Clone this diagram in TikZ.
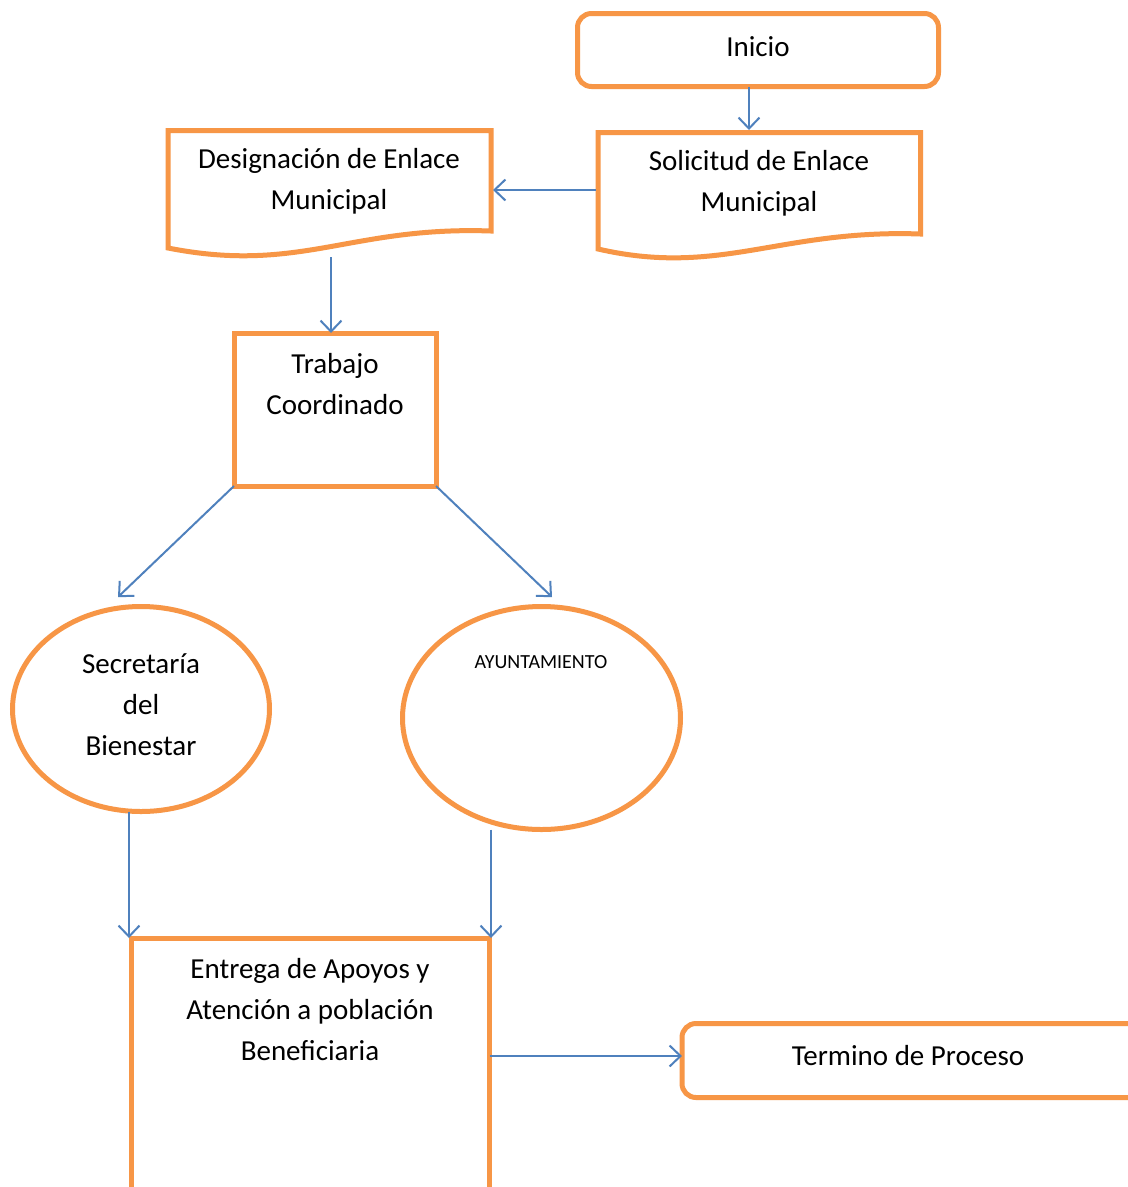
\documentclass[tikz,border=0pt]{standalone}
\usepackage{fontspec}
\setmainfont{Carlito}
\usetikzlibrary{arrows.meta,shapes.geometric}
\definecolor{boxorange}{HTML}{F79646}
\definecolor{linkblue}{HTML}{4F81BD}
\begin{document}
\begin{tikzpicture}[x=1pt,y=-1pt,
  outl/.style={draw=boxorange,line width=5pt},
  shapebox/.style={inner sep=0pt,outer sep=0pt},
  lbl/.style={font=\fontsize{29}{41}\selectfont,align=center,inner sep=0pt},
  smalllbl/.style={font=\fontsize{20}{24}\selectfont,align=center,inner sep=0pt},
  conn/.style={draw=linkblue,line width=2pt,-{Straight Barb[length=11pt,width=21pt,line width=2pt]}}]
\useasboundingbox (0,0) rectangle (1128,1187);
\clip (0,0) rectangle (1128,1187);
\fill[white] (0,0) rectangle (1128,1187);

% Inicio
\node[shapebox,outl,rounded corners=14pt,minimum width=361pt,minimum height=73pt] (inicio) at (758,50) {};
\node[lbl] (iniciotxt) at (758,47) {Inicio};

% Solicitud (document shape)
\node[shapebox,minimum width=326pt,minimum height=120pt] (solic) at (759,190) {};
\draw[outl,line join=miter] (598,132.5) -- (920.5,132.5) -- (920.5,234)
  .. controls (780,229) and (720,277) .. (598,249) -- cycle;
\node[lbl] (solictxt) at (759,183) {Solicitud de Enlace\\Municipal};

% Designacion (document shape)
\node[shapebox,minimum width=327pt,minimum height=129pt] (desig) at (329.5,192.5) {};
\draw[outl,line join=miter] (168,130.5) -- (491,130.5) -- (491,231)
  .. controls (350,226) and (300,274) .. (168,248) -- cycle;
\node[lbl] (desigtxt) at (329,181) {Designación de Enlace\\Municipal};

% Trabajo
\node[shapebox,outl,minimum width=202pt,minimum height=153pt] (trab) at (335,409.5) {};
\node[lbl] (trabtxt) at (335,384) {Trabajo\\Coordinado};

% Ellipses
\node[shapebox,outl,ellipse,minimum width=257pt,minimum height=205pt] (secr) at (141,709) {};
\node[lbl] (secrtxt) at (141,705) {Secretaría\\del\\Bienestar};
\node[shapebox,outl,ellipse,minimum width=278pt,minimum height=223pt] (ayun) at (541.5,718) {};
\node[smalllbl] (ayuntxt) at (541,662) {AYUNTAMIENTO};

% Entrega
\node[shapebox,outl,minimum width=358pt,minimum height=292pt] (entr) at (310.5,1084) {};
\node[lbl] (entrtxt) at (310,1010) {Entrega de Apoyos y\\Atención a población\\Beneficiaria};

% Termino
\node[shapebox,outl,rounded corners=14pt,minimum width=462pt,minimum height=74pt] (term) at (913,1060.5) {};
\node[lbl] (termtxt) at (908,1056) {Termino de Proceso};

% helper coordinates
\coordinate (xa) at (749,0);
\coordinate (xb) at (331,0);
\coordinate (xc) at (129,0);
\coordinate (xd) at (491,0);
\coordinate (ya) at (0,1056);
\coordinate (endl) at (118,597);
\coordinate (endr) at (552,597);
\coordinate (startb) at (331,257);

% connectors
\draw[conn] (inicio.south -| xa) -- (solic.north -| xa);
\draw[conn] (solic.west) -- (solic.west -| desig.east);
\draw[conn] (startb) -- (trab.north -| xb);
\draw[conn] (trab.south west) -- (endl);
\draw[conn] (trab.south east) -- (endr);
\draw[conn] (secr.south -| xc) -- (entr.north -| xc);
\draw[conn] (ayun.south -| xd) -- (entr.north -| xd);
\draw[conn] (entr.east |- ya) -- (term.west |- ya);
\end{tikzpicture}
\end{document}
